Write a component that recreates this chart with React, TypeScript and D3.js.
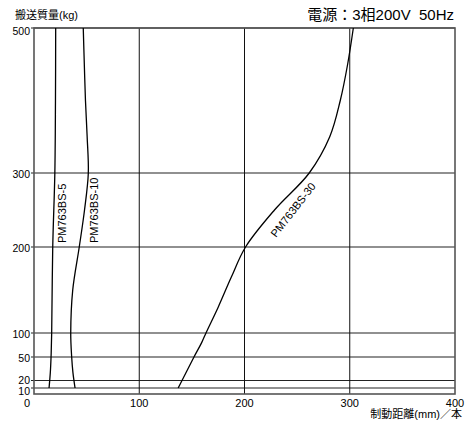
import React, { useRef, useEffect } from "react";
import * as d3 from "d3";

// y ticks (kg) and x ticks (mm)
const yTicks = [10, 20, 50, 100, 200, 300, 500];
const xTicks = [0, 100, 200, 300, 400];

// curves: [distance mm, mass kg]
const pm5 = [
  [14.3, 10], [15.5, 30], [16.2, 50], [16.8, 100], [17.8, 200], [19.8, 300], [20.4, 400], [20.6, 500],
];
const pm10 = [
  [39, 10], [37, 30], [35.8, 50], [34.9, 100], [36.8, 150], [43, 200], [48, 250], [51.6, 300],
  [50.5, 350], [48.9, 400], [47.8, 450], [46.8, 500],
];
const pm30 = [
  [137, 10], [152, 50], [159.3, 80], [163.4, 100], [175, 130], [187.5, 165], [201, 200], [228.5, 250],
  [261.5, 300], [281, 350], [291, 400], [298, 450], [303.4, 500],
];

const series = [
  { name: "PM763BS-5", points: pm5 },
  { name: "PM763BS-10", points: pm10 },
  { name: "PM763BS-30", points: pm30 },
];

const FONT = "'Liberation Sans', Arial, 'Noto Sans CJK JP', sans-serif";

const BrakeChart = () => {
  const svgRef = useRef(null);

  useEffect(() => {
    const svg = d3.select(svgRef.current);
    svg.selectAll("*").remove();

    const left = 34, right = 455, top = 28, bottom = 394;

    const x = d3.scaleLinear().domain([0, 400]).range([left, right]);
    // the printed axis is stretched below 200 kg
    const y = d3
      .scaleLinear()
      .domain([0, 10, 20, 50, 100, 200, 300, 500])
      .range([bottom, 388, 380.5, 357, 333, 247, 173, top]);

    const g = svg.append("g").style("font-family", FONT);

    // horizontal grid
    g.selectAll("line.hgrid")
      .data(yTicks)
      .enter()
      .append("line")
      .attr("x1", left - 3)
      .attr("x2", right)
      .attr("y1", (d) => y(d))
      .attr("y2", (d) => y(d))
      .attr("stroke", "#222")
      .attr("stroke-width", 1.2);

    // vertical grid
    g.selectAll("line.vgrid")
      .data(xTicks.slice(1, -1))
      .enter()
      .append("line")
      .attr("x1", (d) => x(d))
      .attr("x2", (d) => x(d))
      .attr("y1", top)
      .attr("y2", bottom)
      .attr("stroke", "#111")
      .attr("stroke-width", 1);

    // frame
    g.append("rect")
      .attr("x", left)
      .attr("y", top)
      .attr("width", right - left)
      .attr("height", bottom - top)
      .attr("fill", "none")
      .attr("stroke", "#555")
      .attr("stroke-width", 1.6);

    // y labels
    const yOff = { 10: 2.8, 20: -0.8, 500: 3 };
    g.selectAll("text.ylab")
      .data(yTicks)
      .enter()
      .append("text")
      .attr("x", 30)
      .attr("y", (d) => y(d) + (yOff[d] ?? 1))
      .attr("text-anchor", "end")
      .attr("dominant-baseline", "central")
      .style("font-size", "10.5px")
      .text((d) => d);

    // x labels
    g.selectAll("text.xlab")
      .data(xTicks)
      .enter()
      .append("text")
      .attr("x", (d) => x(d) + (d === 0 ? -7 : 0))
      .attr("y", 407)
      .attr("text-anchor", "middle")
      .style("font-size", "11px")
      .text((d) => d);

    // curves
    const line = d3
      .line()
      .x((d) => x(d[0]))
      .y((d) => y(d[1]))
      .curve(d3.curveCatmullRom.alpha(0.5));

    g.selectAll("path.curve")
      .data(series)
      .enter()
      .append("path")
      .attr("d", (d) => line(d.points))
      .attr("fill", "none")
      .attr("stroke", "#000")
      .attr("stroke-width", 1.3);

    // curve labels
    g.append("text")
      .attr("transform", "translate(66,243) rotate(-90)")
      .style("font-size", "11px")
      .text(series[0].name);
    g.append("text")
      .attr("transform", "translate(98,243) rotate(-90)")
      .style("font-size", "11px")
      .text(series[1].name);
    g.append("text")
      .attr("transform", "translate(276,238) rotate(-52)")
      .style("font-size", "11px")
      .text(series[2].name);

    // titles
    g.append("text")
      .attr("x", 15)
      .attr("y", 19)
      .style("font-size", "11px")
      .text("搬送質量(kg)");

    g.append("text")
      .attr("x", 454)
      .attr("y", 20)
      .attr("text-anchor", "end")
      .style("font-size", "15px")
      .style("white-space", "pre")
      .text("電源：3相200V  50Hz");

    g.append("text")
      .attr("x", 462)
      .attr("y", 418)
      .attr("text-anchor", "end")
      .style("font-size", "11px")
      .text("制動距離(mm)／本");
  }, []);

  return (
    <svg
      ref={svgRef}
      width={470}
      height={423}
      style={{ position: "absolute", left: 0, top: 0, background: "#fff" }}
    ></svg>
  );
};

export default function App() {
  return <BrakeChart />;
}
